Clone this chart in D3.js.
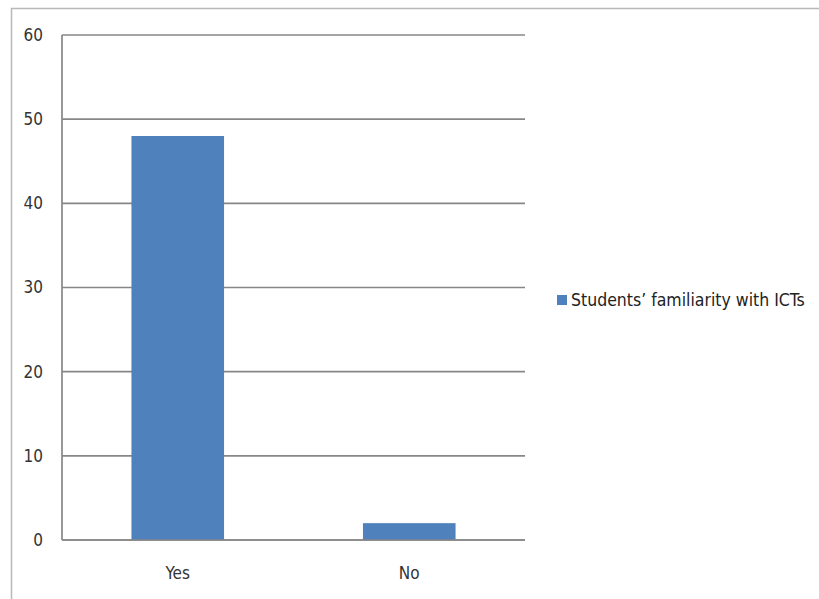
<!DOCTYPE html>
<html>
<head>
<meta charset="utf-8">
<script src="https://cdn.jsdelivr.net/npm/d3@7"></script>
<style>
  body { margin: 0; background: #fff; }
  svg { font-family: "Liberation Sans Narrow", "DejaVu Sans Condensed", "Open Sans", sans-serif; }
</style>
</head>
<body>
<div id="chart"></div>
<script>
const categories = ["Yes", "No"];
const values = [48, 2];
const yTicks = [0, 10, 20, 30, 40, 50, 60];
const seriesName = "Students\u2019 familiarity with ICTs";

const width = 819, height = 599;
const margin = { top: 35, right: 294, bottom: 59, left: 62 };
const innerWidth = width - margin.left - margin.right;
const innerHeight = height - margin.top - margin.bottom;

const svg = d3.select("#chart").append("svg")
    .attr("width", width)
    .attr("height", height);

// outer chart border (runs off the right and bottom edges, as in the source)
svg.append("path")
    .attr("d", `M11.5,${height} V8.5 H${width}`)
    .attr("fill", "none")
    .attr("stroke", "#b8b8b8")
    .attr("stroke-width", 1.5);

const g = svg.append("g").attr("transform", `translate(${margin.left},${margin.top})`);

const x = d3.scaleBand()
    .domain(categories)
    .range([0, innerWidth])
    .paddingInner(0.6)
    .paddingOuter(0.3);

const y = d3.scaleLinear()
    .domain([0, 60])
    .range([innerHeight, 0]);

// gridlines
g.selectAll(".grid")
    .data(yTicks)
    .enter()
    .append("line")
    .attr("x1", 0).attr("x2", innerWidth)
    .attr("y1", d => y(d)).attr("y2", d => y(d))
    .attr("stroke", "#878787")
    .attr("stroke-width", 1.7);

// y axis line
g.append("line")
    .attr("x1", 0).attr("x2", 0)
    .attr("y1", 0).attr("y2", innerHeight)
    .attr("stroke", "#878787")
    .attr("stroke-width", 1.7);

// bars
g.selectAll(".bar")
    .data(values)
    .enter()
    .append("rect")
    .attr("x", (d, i) => x(categories[i]))
    .attr("width", x.bandwidth())
    .attr("y", d => y(d))
    .attr("height", d => y(0) - y(d))
    .attr("fill", "#4f81bd");

// redraw baseline on top of bars
g.append("line")
    .attr("x1", 0).attr("x2", innerWidth)
    .attr("y1", y(0)).attr("y2", y(0))
    .attr("stroke", "#878787")
    .attr("stroke-width", 1.7);

// y tick labels
g.selectAll(".ytick")
    .data(yTicks)
    .enter()
    .append("text")
    .attr("x", -19)
    .attr("y", d => y(d))
    .attr("dy", "0.35em")
    .attr("text-anchor", "end")
    .style("font-size", "17px")
    .style("fill", "#333")
    .text(d => d);

// x labels
g.selectAll(".xtick")
    .data(categories)
    .enter()
    .append("text")
    .attr("x", d => x(d) + x.bandwidth() / 2)
    .attr("y", innerHeight + 33)
    .attr("dy", "0.35em")
    .attr("text-anchor", "middle")
    .style("font-size", "17px")
    .style("fill", "#333")
    .text(d => d);

// legend
const legend = svg.append("g").attr("transform", "translate(557,300)");
legend.append("rect")
    .attr("x", 0).attr("y", -5)
    .attr("width", 10).attr("height", 10)
    .attr("fill", "#4f81bd");
legend.append("text")
    .attr("x", 14)
    .attr("y", 0)
    .attr("dy", "0.35em")
    .style("font-size", "17.5px")
    .style("fill", "#222")
    .text(seriesName);
</script>
</body>
</html>
